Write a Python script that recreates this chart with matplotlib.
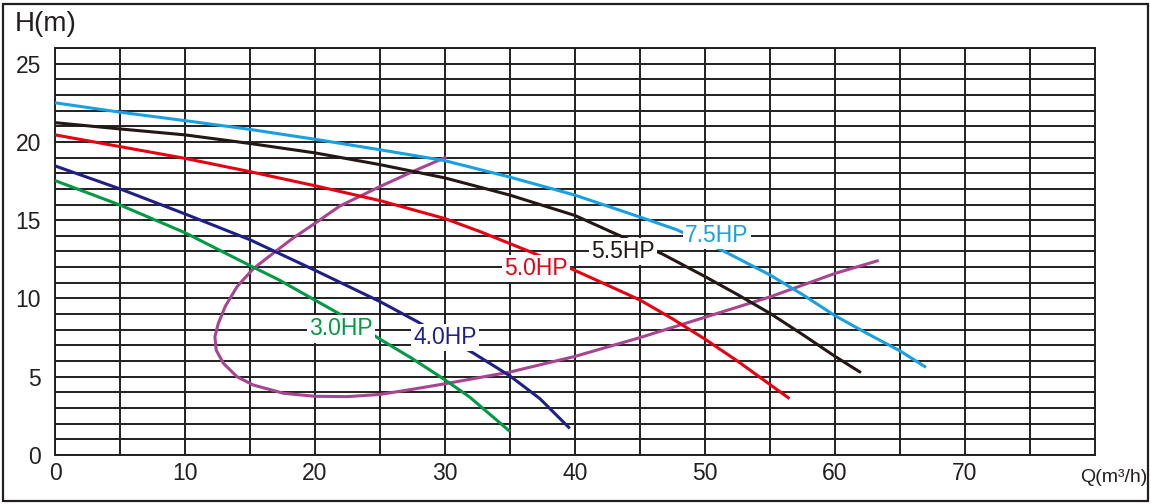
import matplotlib
matplotlib.use('Agg')
import matplotlib.pyplot as plt
from matplotlib.patches import Rectangle
import numpy as np

plt.rcParams['font.family'] = ['Liberation Sans', 'DejaVu Sans']

# pump curves, Q (m3/h) vs H (m)
q_75 = [0, 5, 10, 15, 20, 25, 30, 35, 40, 45, 47.8, 51.5, 55, 57.5, 60, 62.5, 65, 67]
h_75 = [22.5, 21.9, 21.36, 20.8, 20.17, 19.5, 18.8, 17.75, 16.6, 15.2, 14.4, 13.0, 11.5, 10.25, 8.9, 7.75, 6.65, 5.6]

q_55 = [0, 5, 10, 15, 20, 25, 30, 35, 40, 43.2, 46.7, 50, 52.5, 55, 57.5, 60, 62]
h_55 = [21.23, 20.83, 20.45, 19.9, 19.3, 18.55, 17.7, 16.6, 15.3, 14.1, 12.85, 11.4, 10.25, 9.05, 7.7, 6.3, 5.26]

q_50 = [0, 5, 10, 15, 20, 25, 30, 32.7, 36.5, 39.7, 42.5, 45, 47.5, 50, 52.5, 55, 56.5]
h_50 = [20.45, 19.7, 18.95, 18.1, 17.2, 16.25, 15.1, 14.27, 13.0, 11.9, 10.85, 9.9, 8.7, 7.4, 6.0, 4.5, 3.6]

q_40 = [0, 5, 10, 15, 20, 25, 27.8, 32.2, 35, 37.3, 39.6]
h_40 = [18.47, 17.0, 15.4, 13.75, 11.8, 9.8, 8.55, 6.5, 5.05, 3.6, 1.7]

q_30 = [0, 5, 10, 15, 17.2, 21.7, 25, 27.5, 30, 31.9, 35]
h_30 = [17.53, 15.97, 14.2, 12.1, 11.2, 9.1, 7.4, 6.15, 4.8, 3.7, 1.5]

# best efficiency loop
q_eff = [30, 27.5, 25, 21.9, 20, 18.3, 16.8, 15.25, 14.0, 13.1, 12.56, 12.3, 12.4, 12.95,
         14.0, 15.25, 17.6, 20, 22.5, 25, 27.5, 30, 35, 40, 45, 50, 55, 60, 63.25]
h_eff = [19.0, 18.1, 17.15, 15.9, 14.8, 13.85, 12.9, 11.9, 10.75, 9.5, 8.4, 7.56, 6.7, 5.86,
         5.0, 4.47, 3.94, 3.75, 3.73, 3.87, 4.2, 4.55, 5.3, 6.3, 7.5, 8.8, 10.1, 11.6, 12.4]

curves = [
    (q_75, h_75, '#19a0e3', '7.5HP', (50.9, 14.05)),
    (q_55, h_55, '#231815', '5.5HP', (43.7, 13.0)),
    (q_50, h_50, '#e60012', '5.0HP', (37.0, 11.9)),
    (q_40, h_40, '#1d2088', '4.0HP', (30.0, 7.5)),
    (q_30, h_30, '#009944', '3.0HP', (22.0, 8.05)),
]

fig = plt.figure(figsize=(11.51, 5.04), dpi=100)
ax = fig.add_axes([55 / 1151, 49 / 504, 1040 / 1151, 407 / 504])

for q, h, c, name, pos in curves:
    ax.plot(q, h, color=c, lw=2.2, zorder=3, solid_capstyle='butt', solid_joinstyle='round')
    ax.text(pos[0], pos[1], name, color=c, fontsize=16.5, ha='center', va='center', zorder=5,
            bbox=dict(facecolor='white', edgecolor='none', pad=1.5))

ax.plot(q_eff, h_eff, color='#a8458f', lw=2.2, zorder=2, solid_joinstyle='round')

ax.set_xlim(0, 80)
ax.set_ylim(0, 26)
ax.set_xticks(np.arange(0, 71, 10))
ax.set_xticks(np.arange(5, 81, 10), minor=True)
ax.set_yticks(np.arange(0, 26, 5))
ax.set_yticks(np.arange(0, 27, 1), minor=True)
ax.grid(which='both', color='#231f20', lw=1.4, zorder=1)
ax.set_axisbelow(True)
ax.tick_params(which='both', length=0, labelsize=16.5, colors='#231f20')
ax.tick_params(axis='x', pad=5)
ax.tick_params(axis='y', pad=10)
for s in ax.spines.values():
    s.set_color('#231f20')
    s.set_linewidth(1.4)

fig.text(15 / 1151, 1 - 24 / 504, 'H(m)', fontsize=20, ha='left', va='center', color='#231f20')
fig.text(1147 / 1151, 1 - 477 / 504, 'Q(m³/h)', fontsize=14, ha='right', va='center', color='#231f20')

fig.patches.append(Rectangle((3 / 1151, 3 / 504), 1145 / 1151, 497 / 504, transform=fig.transFigure,
                             fill=False, edgecolor='#231f20', lw=1.6))

fig.savefig('out.png', dpi=100)
